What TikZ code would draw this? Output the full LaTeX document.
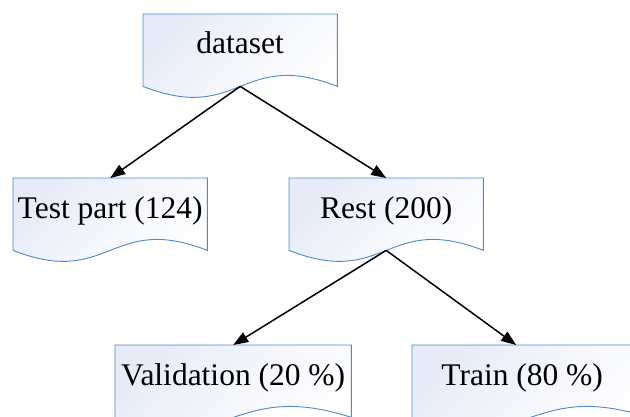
\documentclass[tikz,border=0pt]{standalone}
\usepackage{fontspec}
\setmainfont{Liberation Serif}
\usetikzlibrary{calc,arrows.meta}
\definecolor{docedge}{RGB}{79,136,198}
\definecolor{docfill}{RGB}{230,235,247}
\tikzset{
  docbox/.style={rectangle, inner sep=0pt, minimum height=72pt, anchor=north west},
  doctext/.style={anchor=base, inner sep=0pt, font=\fontsize{31.5}{36}\selectfont},
  docshade/.style={top color=docfill, bottom color=white, middle color=docfill!40!white, shading angle=45, draw=docedge, line width=0.9pt},
  conn/.style={line width=1.5pt, -{Triangle[length=15pt,width=11pt]}}
}
\newcommand{\docshape}[1]{%
  \path[docshade] (#1.north west) -- (#1.north east) -- (#1.south east)
    .. controls ($(#1.south)+(0,-38)$) and ($(#1.south)+(0,38)$) .. (#1.south west) -- cycle;
  \coordinate (#1-bot) at (#1.south);
}
\begin{document}
\begin{tikzpicture}[x=1pt,y=-1pt]
\useasboundingbox (0,0) rectangle (630,416);
\node[docbox, minimum width=194pt] (ds) at (143,14) {};
\node[docbox, minimum width=194pt] (tp) at (13,178) {};
\node[docbox, minimum width=194pt] (rs) at (289,178) {};
\node[docbox, minimum width=236pt] (va) at (115,345) {};
\node[docbox, minimum width=236pt] (tr) at (412,345) {};
\docshape{ds}
\docshape{tp}
\docshape{rs}
\docshape{va}
\docshape{tr}
\node[doctext] (dst) at ($(ds.north)+(0,39)$) {dataset};
\node[doctext] (tpt) at ($(tp.north)+(0,40)$) {Test part (124)};
\node[doctext] (rst) at ($(rs.north)+(0,40)$) {Rest (200)};
\node[doctext] (vat) at ($(va.north)+(0,40)$) {Validation (20 \%)};
\node[doctext] (trt) at ($(tr.north)+(-8,40)$) {Train (80 \%)};
\draw[conn] (ds-bot) -- (tp.north);
\draw[conn] (ds-bot) -- (rs.north);
\draw[conn] (rs-bot) -- (va.north);
\draw[conn] (rs-bot) -- ($(tr.north)-(14,0)$);
\end{tikzpicture}
\end{document}
